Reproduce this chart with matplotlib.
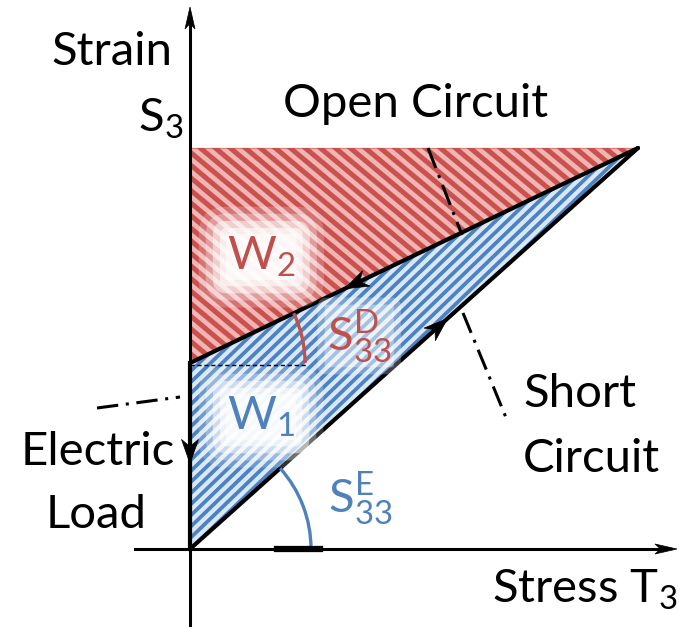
import numpy as np
import matplotlib
matplotlib.use('Agg')
import matplotlib.pyplot as plt
from matplotlib.patches import Polygon, Arc

plt.rcParams['font.family'] = ['Lato', 'DejaVu Sans']

# work cycle in the stress / strain plane: T3 along x, S3 along y
stress_peak = 448
strain_peak = 401
strain_open0 = 186          # open circuit line meets the strain axis here

short_T = [0, stress_peak]
short_S = [0, strain_peak]
open_T = [0, stress_peak]
open_S = [strain_open0, strain_peak]
load_T = [0, 0]
load_S = [strain_open0, 0]

w1_T = [0, stress_peak, 0]
w1_S = [0, strain_peak, strain_open0]
w2_T = [0, stress_peak, 0]
w2_S = [strain_open0, strain_peak, strain_peak]

red = '#c0504d'
blue = '#4f81bd'

fig = plt.figure(figsize=(6.79, 6.27), dpi=100)
ax = fig.add_axes([0, 0, 1, 1])
ax.set_xlim(-190, 489)
ax.set_ylim(-78, 549)
ax.axis('off')


def striped(xs, ys, face, stripe, step, angle, lw):
    poly = Polygon(list(zip(xs, ys)), closed=True, fc=face, ec='none', zorder=1)
    ax.add_patch(poly)
    d = np.tan(np.radians(angle))
    x0, x1 = -200, 500
    for c in np.arange(-1000, 1000, step * abs(d)):
        ln, = ax.plot([x0, x1], [c + d * x0, c + d * x1], color=stripe, lw=lw,
                      solid_capstyle='butt', zorder=2)
        ln.set_clip_path(poly)


striped(w2_T, w2_S, '#f1b6b4', '#c9524f', 15, -40, 3.6)
striped(w1_T, w1_S, '#d9e8f7', '#4d82c2', 11.5, 44, 2.7)


def head(tip, direction, length, width, notch=0.3):
    # notched arrow head drawn as a polygon in data units
    u = np.array(direction, float)
    u /= np.hypot(*u)
    v = np.array([-u[1], u[0]])
    tip = np.array(tip, float)
    back = tip - u * length
    pts = [tip, back + v * width / 2, tip - u * length * (1 - notch), back - v * width / 2]
    ax.add_patch(Polygon(pts, closed=True, fc='black', ec='black', lw=0.5, zorder=7))


# axes
ax.plot([0, 0], [-78, 530], color='black', lw=2.2, zorder=5)
ax.plot([-55, 475], [0, 0], color='black', lw=2.2, zorder=5)
head((0, 542), (0, 1), 22, 10, 0.25)
head((487, 0), (1, 0), 22, 10, 0.25)

# cycle legs
ax.plot(short_T, short_S, color='black', lw=3, zorder=4, solid_capstyle='round')
ax.plot(open_T, open_S, color='black', lw=3, zorder=4, solid_capstyle='round')
ax.plot(load_T, load_S, color='black', lw=3, zorder=4)
ax.plot([0, stress_peak], [strain_peak, strain_peak], color=red, lw=1, alpha=0.5, zorder=3)
ax.plot([0, 118], [strain_open0 - 2, strain_open0 - 2], color='black', lw=1,
        ls=(0, (3, 2)), zorder=4)
ax.plot([87, 130], [0, 0], color='black', lw=4.5, zorder=6)


def leg_arrow(xs, ys, t_tip):
    dx, dy = xs[1] - xs[0], ys[1] - ys[0]
    head((xs[0] + dx * t_tip, ys[0] + dy * t_tip), (dx, dy), 24, 17, 0.3)


leg_arrow(short_T, short_S, 0.575)
leg_arrow(open_T[::-1], open_S[::-1], 0.655)
leg_arrow(load_T, load_S, 0.54)

# slope arcs
a_open = np.degrees(np.arctan2(open_S[1] - open_S[0], open_T[1] - open_T[0]))
a_short = np.degrees(np.arctan2(short_S[1], short_T[1]))
ax.add_patch(Arc((0, strain_open0), 230, 230, theta1=0, theta2=a_open,
                 color=red, lw=2.4, zorder=4))
ax.add_patch(Arc((0, 0), 242, 242, theta1=0, theta2=a_short,
                 color=blue, lw=2.4, zorder=4))

# dash-dot leaders
dd = (0, (7, 2.5, 1, 2.5))
ax.plot([238, 272], [401, 314], color='black', lw=2.2, ls=dd, zorder=4)
ax.plot([273, 317], [236, 129], color='black', lw=2.2, ls=dd, zorder=4)
ax.plot([-93, -10], [141, 152], color='black', lw=2.2, ls=dd, zorder=4)


def soft_label(x, y, s, color, pads):
    # white glow behind a label: a few translucent boxes of growing size
    for p, a in pads:
        ax.text(x, y, s, fontsize=fs, ha='left', va='baseline', alpha=0,
                bbox=dict(boxstyle='round,pad=%.2f' % p, fc='white', ec='none', alpha=a),
                zorder=8)
    ax.text(x, y, s, fontsize=fs, ha='left', va='baseline', color=color, zorder=9)


fs = 34
glow = [(0.6, 0.2), (0.45, 0.3), (0.3, 0.5), (0.15, 0.6), (0.02, 0.6)]
ax.text(-18, 484, 'Strain', fontsize=fs, ha='right', va='baseline')
ax.text(-52, 417, r'$\mathregular{S_3}$', fontsize=fs, ha='left', va='baseline')
ax.text(226, 432, 'Open Circuit', fontsize=fs, ha='center', va='baseline')
soft_label(37, 279, r'$\mathregular{W_2}$', red, glow)
soft_label(37, 119, r'$\mathregular{W_1}$', blue, glow)
soft_label(137, 199, r'$\mathregular{S_{33}^{D}}$', red, [(0.2, 0.25), (0.05, 0.35)])
ax.text(138, 37, r'$\mathregular{S_{33}^{E}}$', fontsize=fs, ha='left', va='baseline',
        color=blue, zorder=8)
ax.text(-92, 84, 'Electric', fontsize=fs, ha='center', va='baseline')
ax.text(-94, 21, 'Load', fontsize=fs, ha='center', va='baseline')
ax.text(333, 142, 'Short', fontsize=fs, ha='left', va='baseline')
ax.text(333, 77, 'Circuit', fontsize=fs, ha='left', va='baseline')
ax.text(487, -54, r'Stress $\mathregular{T_3}$', fontsize=fs, ha='right', va='baseline')

fig.savefig('out.png', dpi=100)
